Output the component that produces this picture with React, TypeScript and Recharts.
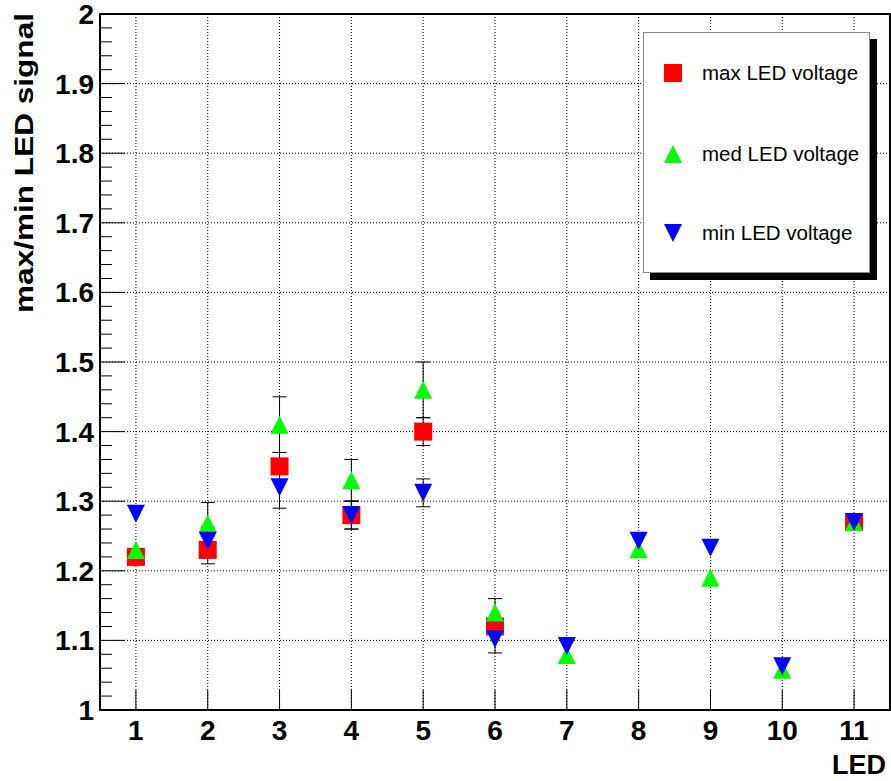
import {
  ScatterChart,
  Scatter,
  XAxis,
  YAxis,
  CartesianGrid,
  ErrorBar,
  Legend,
  Label,
  ReferenceArea,
} from "recharts";

const leds = [1, 2, 3, 4, 5, 6, 7, 8, 9, 10, 11];

// max/min signal ratio per LED (null = no point)
const maxVals = [1.22, 1.23, 1.35, 1.28, 1.4, 1.12, null, null, null, null, 1.27];
const medVals = [1.23, 1.268, 1.41, 1.33, 1.46, 1.14, 1.079, 1.231, 1.19, 1.058, 1.27];
const minVals = [1.282, 1.243, 1.32, 1.28, 1.312, 1.102, 1.092, 1.243, 1.233, 1.063, 1.27];

const maxErr = [0, 0.02, 0.02, 0.02, 0.02, 0.005, 0, 0, 0, 0, 0];
const medErr = [0, 0.03, 0.04, 0.03, 0.04, 0.02, 0, 0, 0, 0, 0];
const minErr = [0, 0.02, 0.03, 0.02, 0.02, 0.02, 0, 0, 0, 0, 0];

const yMajor = [1, 1.1, 1.2, 1.3, 1.4, 1.5, 1.6, 1.7, 1.8, 1.9, 2];
const yLabels = ["1", "1.1", "1.2", "1.3", "1.4", "1.5", "1.6", "1.7", "1.8", "1.9", "2"];

// minor ticks every 0.02
const yTicks: number[] = [];
for (let i = 0; i <= 50; i++) yTicks.push(Math.round(100 + i * 2) / 100);

const FONT = '"Liberation Sans", Arial, Helvetica, sans-serif';

function toPoints(vals: (number | null)[], errs: number[]) {
  const out: { x: number; y: number; err: number }[] = [];
  vals.forEach((v, i) => {
    if (v != null) out.push({ x: leds[i], y: v, err: errs[i] });
  });
  return out;
}

const maxData = toPoints(maxVals, maxErr);
const medData = toPoints(medVals, medErr);
const minData = toPoints(minVals, minErr);

const SERIES = [
  { name: "max LED voltage", color: "#ff0000", shape: "square" },
  { name: "med LED voltage", color: "#00ff00", shape: "up" },
  { name: "min LED voltage", color: "#0000ff", shape: "down" },
];

function Marker({ cx, cy, shape, color }: { cx: number; cy: number; shape: string; color: string }) {
  const h = 9;
  if (shape === "square") {
    return <rect x={cx - h} y={cy - h} width={2 * h} height={2 * h} fill={color} />;
  }
  if (shape === "up") {
    return <polygon points={`${cx - h},${cy + h} ${cx + h},${cy + h} ${cx},${cy - h}`} fill={color} />;
  }
  return <polygon points={`${cx - h},${cy - h} ${cx + h},${cy - h} ${cx},${cy + h}`} fill={color} />;
}

const makeShape = (shape: string, color: string) => (props: any) =>
  <Marker cx={props.cx} cy={props.cy} shape={shape} color={color} />;

function YTick(props: any) {
  const { x, y, payload } = props;
  const idx = yMajor.findIndex((m) => Math.abs(m - payload.value) < 1e-6);
  const major = idx >= 0;
  return (
    <g>
      <line x1={x} x2={x + (major ? 25 : 12)} y1={y} y2={y} stroke="#000" strokeWidth={1} />
      {major && (
        <text x={x - 6} y={y + 10} textAnchor="end" fontFamily={FONT} fontWeight="bold" fontSize={28} fill="#000">
          {yLabels[idx]}
        </text>
      )}
    </g>
  );
}

function XTick(props: any) {
  const { x, y, payload } = props;
  return (
    <g>
      <line x1={x} x2={x} y1={y} y2={y - 20} stroke="#000" strokeWidth={1} />
      <text x={x} y={y + 30} textAnchor="middle" fontFamily={FONT} fontWeight="bold" fontSize={28} fill="#000">
        {payload.value}
      </text>
    </g>
  );
}

function LegendBox() {
  const rows = [40, 121, 200];
  return (
    <div
      style={{
        position: "relative",
        width: 227,
        height: 241,
        background: "#fff",
        border: "1px solid #888",
        boxSizing: "border-box",
        boxShadow: "7px 7px 0 #000",
      }}
    >
      {SERIES.map((s, i) => (
        <div
          key={s.name}
          style={{
            position: "absolute",
            left: 0,
            top: rows[i] - 15,
            height: 30,
            display: "flex",
            alignItems: "center",
          }}
        >
          <svg width={58} height={30} style={{ display: "block" }}>
            <Marker cx={29} cy={15} shape={s.shape} color={s.color} />
          </svg>
          <span style={{ fontFamily: FONT, fontSize: 20.5, color: "#000", whiteSpace: "nowrap" }}>{s.name}</span>
        </div>
      ))}
    </div>
  );
}

export default function App() {
  return (
    <div style={{ position: "absolute", left: 0, top: 0, background: "#fff" }}>
      <ScatterChart width={891} height={781} margin={{ top: 14, right: 1, bottom: 0, left: 0 }}>
        <CartesianGrid
          stroke="#000"
          strokeDasharray="1 2"
          horizontalValues={yMajor}
          verticalValues={leds}
        />
        <XAxis
          type="number"
          dataKey="x"
          domain={[0.5, 11.5]}
          ticks={leds}
          interval={0}
          height={71}
          tickSize={0}
          tickMargin={0}
          tickLine={false}
          axisLine={{ stroke: "#000", strokeWidth: 2 }}
          tick={<XTick />}
          allowDataOverflow
        >
          <Label
            content={(p: any) => (
              <text
                x={p.viewBox.x + p.viewBox.width - 4}
                y={p.viewBox.y + 64}
                textAnchor="end"
                fontFamily={FONT}
                fontWeight="bold"
                fontSize={27}
                fill="#000"
              >
                LED
              </text>
            )}
          />
        </XAxis>
        <YAxis
          type="number"
          dataKey="y"
          domain={[1, 2]}
          ticks={yTicks}
          interval={0}
          width={100}
          tickSize={0}
          tickMargin={0}
          tickLine={false}
          axisLine={{ stroke: "#000", strokeWidth: 2 }}
          tick={<YTick />}
          allowDataOverflow
        >
          <Label
            content={(p: any) => {
              const cx = 33;
              const cy = p.viewBox.y + 149;
              return (
                <text
                  x={cx}
                  y={cy}
                  transform={`rotate(-90 ${cx} ${cy})`}
                  textAnchor="middle"
                  fontFamily={FONT}
                  fontWeight="bold"
                  fontSize={26}
                  textLength={300}
                  lengthAdjust="spacingAndGlyphs"
                  fill="#000"
                >
                  max/min LED signal
                </text>
              );
            }}
          />
        </YAxis>
        <ReferenceArea x1={0.5} x2={11.5} y1={1} y2={2} fill="none" stroke="#000" strokeWidth={2} ifOverflow="visible" />
        <Scatter name={SERIES[0].name} data={maxData} fill={SERIES[0].color} shape={makeShape("square", SERIES[0].color)} isAnimationActive={false}>
          <ErrorBar dataKey="err" direction="y" width={7} stroke="#000" strokeWidth={1} />
        </Scatter>
        <Scatter name={SERIES[1].name} data={medData} fill={SERIES[1].color} shape={makeShape("up", SERIES[1].color)} isAnimationActive={false}>
          <ErrorBar dataKey="err" direction="y" width={7} stroke="#000" strokeWidth={1} />
        </Scatter>
        <Scatter name={SERIES[2].name} data={minData} fill={SERIES[2].color} shape={makeShape("down", SERIES[2].color)} isAnimationActive={false}>
          <ErrorBar dataKey="err" direction="y" width={7} stroke="#000" strokeWidth={1} />
        </Scatter>
        <Legend
          layout="vertical"
          align="center"
          verticalAlign="middle"
          wrapperStyle={{ position: "absolute", left: 643, top: 32, width: 227, height: 241 }}
          content={() => <LegendBox />}
        />
      </ScatterChart>
    </div>
  );
}
